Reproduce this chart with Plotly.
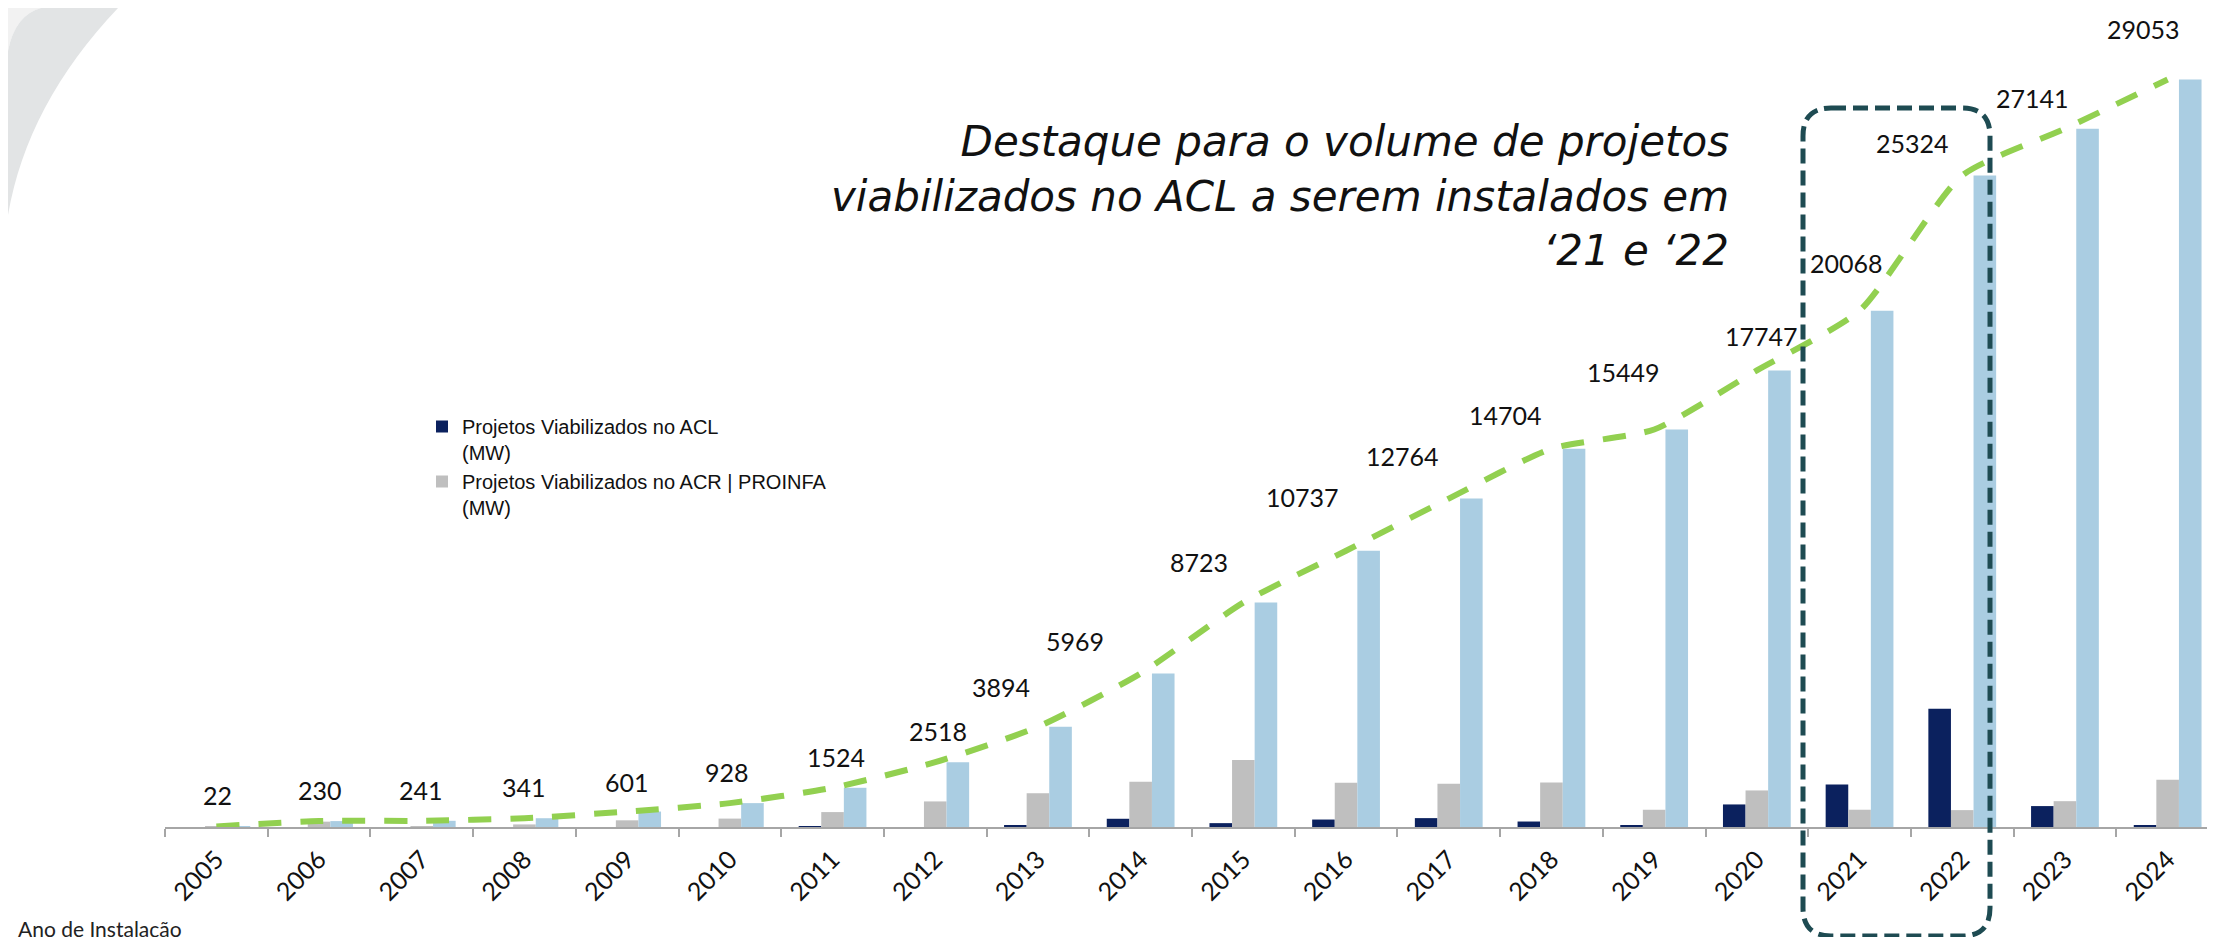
import plotly.graph_objects as go

# data (MW)
years = ['2005', '2006', '2007', '2008', '2009', '2010', '2011', '2012', '2013', '2014',
         '2015', '2016', '2017', '2018', '2019', '2020', '2021', '2022', '2023', '2024']
acl_mw = [0, 0, 0, 0, 0, 0, 16, 0, 64, 320, 150, 290, 345, 213, 75, 877, 1650, 4600, 813, 72]
acr_proinfa_mw = [22, 208, 11, 100, 260, 327, 580, 994, 1312, 1755,
                  2604, 1724, 1682, 1727, 670, 1421, 671, 656, 1004, 1840]
total_mw = [22, 230, 241, 341, 601, 928, 1524, 2518, 3894, 5969,
            8723, 10737, 12764, 14704, 15449, 17747, 20068, 25324, 27141, 29053]

# page geometry (pixels)
W, H = 2215, 937
ML, MR, MT, MB = 157, 4, 20, 118
PW, PH = W - ML - MR, H - MT - MB

# hand-placed label nudges in the original (pixels: right, up)
label_dx = [1, 1, -1, 0, 0, -3, 3, 3, -37, -66, -44, -44, -46, -46, -31, 5, -13, -50, -32, -24]
label_dy = [31, 31, 31, 31, 30, 31, 31, 31, 40, 32, 41, 54, 43, 34, 58, 34, 48, 32, 31, 50]


def px(x):
    return (x - ML) / PW


def py(y):
    return (H - MB - y) / PH


def rounded_rect(x0, y0, x1, y1, r):
    rx, ry = r / PW, r / PH
    X0, X1, Y0, Y1 = px(x0), px(x1), py(y0), py(y1)
    return (f"M {X0+rx},{Y0} L {X1-rx},{Y0} Q {X1},{Y0} {X1},{Y0-ry} "
            f"L {X1},{Y1+ry} Q {X1},{Y1} {X1-rx},{Y1} "
            f"L {X0+rx},{Y1} Q {X0},{Y1} {X0},{Y1+ry} "
            f"L {X0},{Y0-ry} Q {X0},{Y0} {X0+rx},{Y0} Z")


fig = go.Figure()
fig.add_trace(go.Bar(x=years, y=acl_mw, name='Projetos Viabilizados no ACL<br>(MW)',
                     marker=dict(color='#0B215E', line_width=0)))
fig.add_trace(go.Bar(x=years, y=acr_proinfa_mw, name='Projetos Viabilizados no ACR | PROINFA<br>(MW)',
                     marker=dict(color='#BFBFBF', line_width=0)))
fig.add_trace(go.Bar(x=years, y=total_mw, showlegend=False,
                     marker=dict(color='#AACDE2', line_width=0)))
fig.add_trace(go.Scatter(x=years, y=total_mw, mode='lines', showlegend=False,
                         line=dict(color='#92D050', width=6, dash='23px,19px',
                                   shape='spline', smoothing=0.6)))

# value labels above the cumulative line (x given as category index)
for i, v in enumerate(total_mw):
    fig.add_annotation(x=i, y=v, text=str(v), showarrow=False,
                       xshift=label_dx[i], yshift=label_dy[i],
                       font=dict(family='Lato', size=25, color='#111111'))

fig.add_annotation(xref='paper', yref='paper', x=px(1723), y=py(188),
                   xanchor='right', yanchor='middle', align='right', showarrow=False,
                   text='<i>Destaque para o volume de projetos<br>viabilizados no ACL a serem instalados em<br>‘21 e ‘22</i>',
                   font=dict(family='DejaVu Sans', size=42, color='#111111'))
fig.add_annotation(xref='paper', yref='paper', x=px(8), y=py(935),
                   xanchor='left', yanchor='bottom', showarrow=False,
                   text='Ano de Instalação',
                   font=dict(family='Lato', size=21, color='#222222'))

# highlight box around 2021-2022
fig.add_shape(type='path', xref='paper', yref='paper',
              path=rounded_rect(1795, 100, 1982, 928, 28),
              line=dict(color='#1E4B52', width=5, dash='15px,7px'), layer='above')

# grey swoosh in the top-left corner
fig.add_shape(type='path', xref='paper', yref='paper', layer='below', line_width=0,
              fillcolor='#F2F2F2',
              path=f"M {px(0)},{py(0)} L {px(33)},{py(0)} Q {px(7)},{py(7)} {px(0)},{py(43)} Z")
fig.add_shape(type='path', xref='paper', yref='paper', layer='below', line_width=0,
              fillcolor='#E2E4E5',
              path=(f"M {px(33)},{py(0)} Q {px(7)},{py(7)} {px(0)},{py(43)} "
                    f"L {px(0)},{py(207)} Q {px(19)},{py(96)} {px(110)},{py(0)} Z"))

fig.update_layout(
    width=W, height=H,
    margin=dict(l=ML, r=MR, t=MT, b=MB, autoexpand=False),
    paper_bgcolor='white', plot_bgcolor='rgba(0,0,0,0)',
    barmode='group', bargap=0.34, bargroupgap=0,
    font=dict(family='Lato', color='#111111'),
    legend=dict(x=px(414), y=py(399), xanchor='left', yanchor='top', valign='top',
                bgcolor='rgba(0,0,0,0)', tracegroupgap=8,
                font=dict(family='Liberation Sans', size=20, color='#111111')),
)
fig.update_xaxes(type='category', range=[-0.5, len(years) - 0.5], showline=True,
                 linecolor='#A6A6A6', linewidth=2, automargin=False,
                 ticks='outside', tickson='boundaries', ticklen=8, tickcolor='#A6A6A6',
                 tickwidth=2, tickangle=-45, showgrid=False, ticklabelstandoff=6,
                 tickfont=dict(family='Lato', size=25, color='#111111'))
fig.update_yaxes(visible=False, range=[0, 31054], showgrid=False)

fig.write_html("out.html")
